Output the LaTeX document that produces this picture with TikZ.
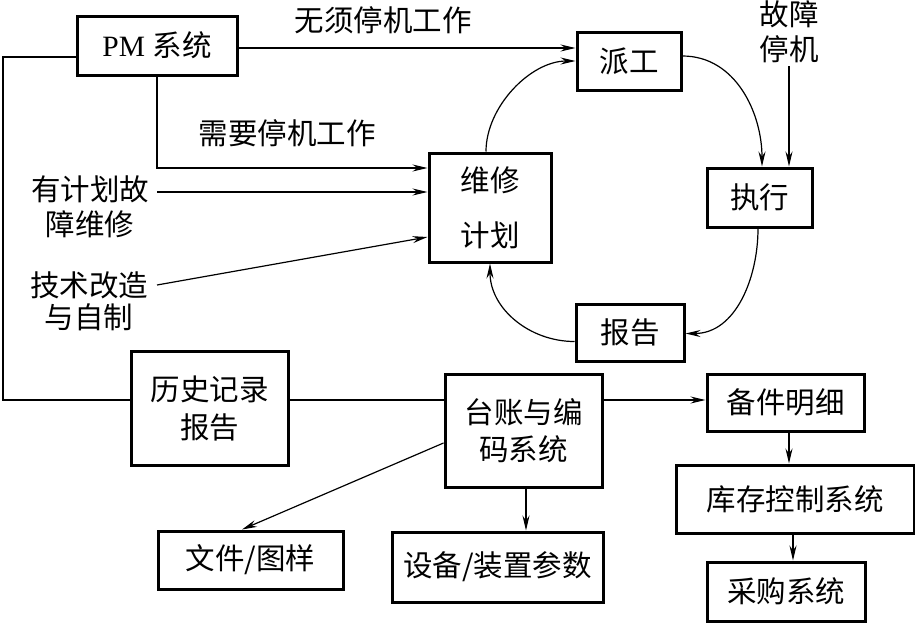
\documentclass[tikz,border=0pt]{standalone}
\usepackage{fontspec}
\setmainfont{Liberation Serif}
\newfontfamily\cjk{Noto Sans CJK SC}
\usetikzlibrary{arrows.meta,calc}
\begin{document}
\begin{tikzpicture}[x=1pt,y=-1pt,
  box/.style={draw,line width=3pt,inner sep=0pt,align=center,font=\cjk\fontsize{29.5}{36}\selectfont},
  lbl/.style={inner sep=0pt,align=center,font=\cjk\fontsize{29.5}{35}\selectfont},
  conn/.style={line width=1.2pt},
  arr/.style={conn,-{Stealth[length=15pt,width=7pt,inset=5pt]}}]
\useasboundingbox (0,0) rectangle (915,622);
% boxes
\node[box,minimum width=160pt,minimum height=59pt] (pm) at (157,45.5) {\rmfamily PM \cjk 系统};
\node[box,minimum width=104pt,minimum height=58pt] (pg) at (629,61) {派工};
\node[box,minimum width=122pt,minimum height=109pt] (wx) at (490,207.5) {维修\\[19pt]计划};
\node[box,minimum width=105pt,minimum height=59pt] (zx) at (759.5,197.5) {执行};
\node[box,minimum width=108pt,minimum height=57pt] (bg) at (630,332.5) {报告};
\node[box,minimum width=157pt,minimum height=114pt] (ls) at (209.5,408) {历史记录\\[2pt]报告};
\node[box,minimum width=157pt,minimum height=113pt] (tz) at (523.5,430.5) {台账与编\\[1pt]码系统};
\node[box,minimum width=157pt,minimum height=57pt] (bj) at (785.5,402.5) {备件明细};
\node[box,minimum width=238pt,minimum height=68pt] (kc) at (795,499) {库存控制系统};
\node[box,minimum width=158pt,minimum height=59pt] (cg) at (786,591.5) {采购系统};
\node[box,minimum width=211pt,minimum height=70pt] (sb) at (497.5,567) {设备/装置参数};
\node[box,minimum width=185pt,minimum height=58pt] (wj) at (250.5,560) {文件/图样};
% free labels
\node[lbl] (t1) at (383,20) {无须停机工作};
\node[lbl] (t2) at (287,133) {需要停机工作};
\node[lbl] (t3) at (90,207) {有计划故\\障维修};
\node[lbl] (t4) at (89,301) {技术改造\\[-3pt]与自制};
\node[lbl] (t5) at (789,32) {故障\\停机};
% coordinates
\coordinate (a1) at (157,192);
\coordinate (a2) at (157,285);
\coordinate (c0) at (3,400);
\coordinate (c1) at (789,66);
% connectors
\draw[arr] ([yshift=-2.5pt]pm.east) -- ([yshift=-2.5pt]pm.east -| pg.west);
\draw[arr] ([xshift=-4pt]wx.north) to[out=90,in=180,looseness=0.9] (pg.west);
\draw[arr] ([yshift=5pt]pg.east) to[out=0,in=90,looseness=1.0] ([xshift=2.5pt]zx.north);
\draw[arr] (c1) -- (c1 |- zx.north);
\draw[arr] ([xshift=-1.5pt]zx.south) to[out=-90,in=0,looseness=1.0] ([yshift=-1pt]bg.east);
\draw[arr] ([yshift=-9pt]bg.west) to[out=180,in=-90,looseness=1.0] (wx.south);
\draw[arr] (pm.south) |- ([yshift=39.5pt]wx.west);
\draw[arr] (a1) -- (a1 -| wx.west);
\draw[arr] (a2) -- ([yshift=-29.5pt]wx.west);
\draw[conn] ([yshift=-11.5pt]pm.west) -| (c0) -- ([yshift=8pt]ls.west);
\draw[conn] ([yshift=8pt]ls.east) -- ([yshift=8pt]ls.east -| tz.west);
\draw[arr] ([yshift=30.5pt]tz.east) -- ([yshift=30.5pt]tz.east -| bj.west);
\draw[arr] ([xshift=3.5pt]bj.south) -- ([xshift=3.5pt]bj.south |- kc.north);
\draw[arr] ([xshift=-2pt]kc.south) -- ([xshift=-2pt]kc.south |- cg.north);
\draw[arr] ([xshift=2.5pt]tz.south) -- ([xshift=2.5pt]tz.south |- sb.north);
\draw[arr] ([yshift=-12.5pt]tz.west) -- ([xshift=-8.5pt]wj.north);
\end{tikzpicture}
\end{document}
